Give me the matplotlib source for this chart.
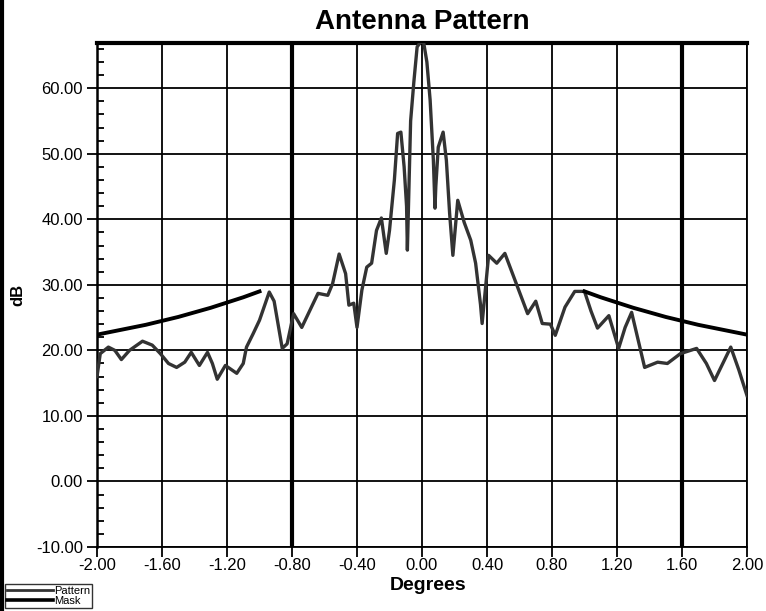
import numpy as np
import matplotlib.pyplot as plt
from matplotlib.lines import Line2D

# Antenna pattern (degrees, dB)
pattern_deg = [-2.00, -1.98, -1.93, -1.89, -1.85, -1.80, -1.72, -1.66, -1.61, -1.56,
               -1.51, -1.46, -1.42, -1.37, -1.32, -1.29, -1.26, -1.21, -1.14, -1.10,
               -1.08, -1.04, -1.00, -0.94, -0.91, -0.86, -0.83, -0.79, -0.74, -0.69,
               -0.64, -0.58, -0.55, -0.51, -0.47, -0.45, -0.42, -0.40, -0.37, -0.34,
               -0.31, -0.28, -0.25, -0.22, -0.20, -0.17, -0.15, -0.13, -0.11, -0.095,
               -0.09, -0.07, -0.05, -0.03, -0.01, 0.01, 0.03, 0.05, 0.07, 0.08,
               0.085, 0.10, 0.13, 0.15, 0.17, 0.19, 0.22, 0.26, 0.30, 0.33,
               0.36, 0.37, 0.41, 0.46, 0.51, 0.58, 0.65, 0.70, 0.74, 0.79,
               0.82, 0.88, 0.94, 1.00, 1.04, 1.08, 1.15, 1.21, 1.25, 1.29,
               1.37, 1.45, 1.51, 1.59, 1.69, 1.75, 1.80, 1.90, 1.95, 2.00]
pattern_db = [16.0, 19.5, 20.5, 20.0, 18.6, 20.0, 21.4, 20.8, 19.5, 18.0,
              17.4, 18.2, 19.7, 17.7, 19.7, 18.0, 15.6, 17.7, 16.5, 18.0,
              20.5, 22.5, 24.6, 28.9, 27.5, 20.3, 21.0, 25.6, 23.5, 26.1,
              28.7, 28.4, 30.2, 34.7, 31.7, 26.9, 27.2, 23.5, 29.2, 32.7,
              33.3, 38.3, 40.2, 34.8, 38.3, 46.0, 53.1, 53.3, 48.0, 42.0,
              35.3, 55.0, 61.0, 66.3, 67.0, 67.0, 64.0, 58.2, 49.0, 41.7,
              45.0, 51.0, 53.3, 49.0, 40.9, 34.5, 42.9, 39.5, 36.8, 33.3,
              27.0, 24.1, 34.5, 33.3, 34.8, 30.2, 25.6, 27.5, 24.1, 24.0,
              22.3, 26.6, 29.0, 29.0, 26.0, 23.4, 25.3, 20.3, 23.5, 25.8,
              17.4, 18.2, 18.0, 19.5, 20.3, 18.0, 15.4, 20.5, 17.0, 13.1]

# Mask limit (symmetric about boresight)
mask_deg = [1.0, 1.1, 1.2, 1.3, 1.4, 1.5, 1.6, 1.7, 1.8, 1.9, 2.0]
mask_db = [29.0, 28.1, 27.3, 26.5, 25.8, 25.1, 24.5, 23.9, 23.4, 22.9, 22.4]

x_ticks = [-2.0, -1.6, -1.2, -0.8, -0.4, 0.0, 0.4, 0.8, 1.2, 1.6, 2.0]
y_ticks = [-10, 0, 10, 20, 30, 40, 50, 60]
bold_lines = [-0.8, 1.6]

plt.rcParams['font.family'] = ['Liberation Sans', 'DejaVu Sans']

fig = plt.figure(figsize=(7.66, 6.11), dpi=100)
ax = fig.add_axes([97 / 766, 64 / 611, 650 / 766, 504 / 611])

ax.set_xlim(-2, 2)
ax.set_ylim(-10, 66.9)

ax.set_xticks(x_ticks)
ax.set_xticklabels([f'{v:.2f}' for v in x_ticks], fontsize=12)
ax.set_yticks(y_ticks)
ax.set_yticklabels([f'{v:.2f}' for v in y_ticks], fontsize=12)
ax.set_yticks(np.arange(-10, 67, 2), minor=True)
ax.tick_params(axis='both', which='major', direction='out', length=7,
               width=1.3, color='black', pad=3)
ax.tick_params(axis='x', which='major', pad=1)
ax.tick_params(axis='y', which='minor', direction='in', length=5, width=1.3)
ax.tick_params(axis='x', which='minor', length=0)

ax.grid(True, which='major', color='black', linewidth=1.3)
for xv in bold_lines:
    ax.axvline(xv, color='black', linewidth=3, zorder=1.5)

for side, lw in [('top', 3), ('left', 1.8), ('right', 1.3), ('bottom', 1.3)]:
    ax.spines[side].set_linewidth(lw)
    ax.spines[side].set_color('black')

ax.plot(pattern_deg, pattern_db, color='#333333', linewidth=2.4,
        label='Pattern', zorder=3)
mask_x = np.array(mask_deg)
ax.plot(mask_x, mask_db, color='black', linewidth=2.8, label='Mask', zorder=4)
ax.plot(-mask_x, mask_db, color='black', linewidth=2.8, zorder=4)

ax.set_title('Antenna Pattern', fontsize=20, fontweight='bold', pad=10)
ax.set_ylabel('dB', fontsize=12, fontweight='bold', labelpad=8)
fig.text(428 / 766, 1 - 585 / 611, 'Degrees', fontsize=14, ha='center',
         va='center', fontweight='bold')

handles = [Line2D([], [], color='#333333', linewidth=2),
           Line2D([], [], color='black', linewidth=2.6)]
leg = fig.legend(handles, ['Pattern', 'Mask'], loc='lower left',
                 bbox_to_anchor=(5 / 766, 3 / 611), fontsize=8,
                 frameon=True, fancybox=False, borderpad=0.15,
                 handlelength=4.2, handletextpad=0.1, labelspacing=0.05,
                 borderaxespad=0)
leg.get_frame().set_edgecolor('black')
leg.get_frame().set_linewidth(1.0)

# dark edge along the left side of the image
fig.add_artist(Line2D([0.002, 0.002], [0, 1], color='black', linewidth=3,
                      transform=fig.transFigure))

fig.savefig('out.png', dpi=100, facecolor='white')
